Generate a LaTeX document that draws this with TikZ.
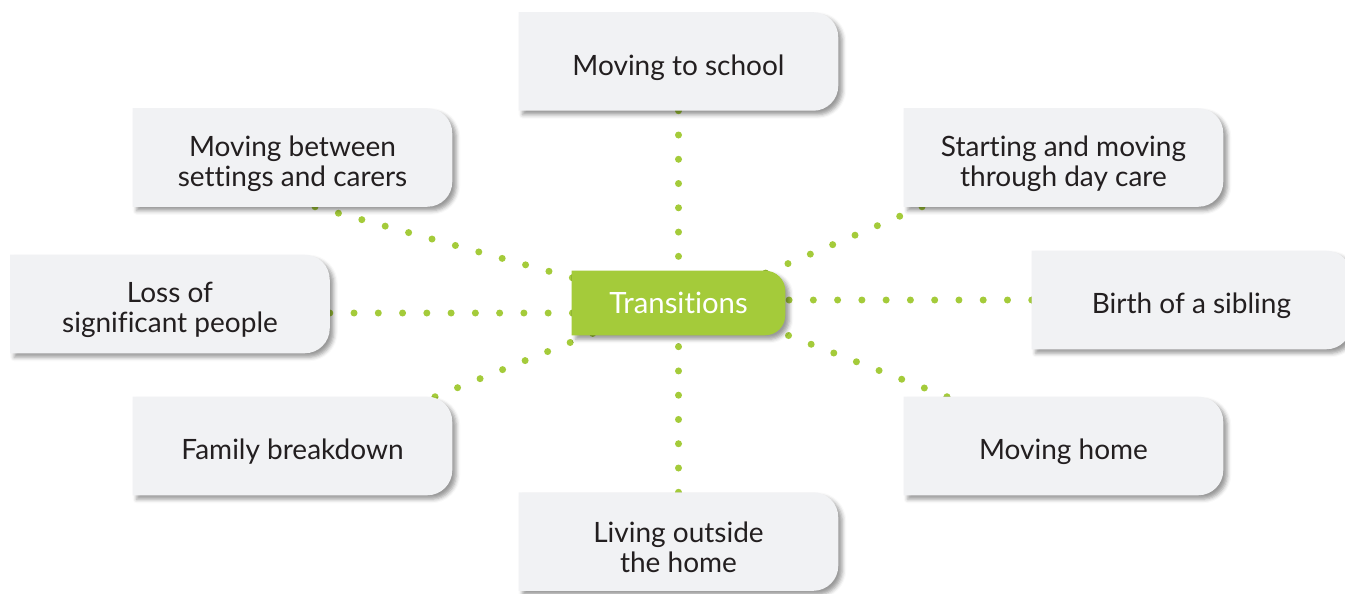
\documentclass[tikz,border=0pt]{standalone}
\usepackage{fontspec}
\setmainfont{Lato}[Ligatures={NoCommon}]
\usetikzlibrary{positioning}
\usetikzlibrary{backgrounds}
\usetikzlibrary{shadows.blur}
\definecolor{leaf}{HTML}{A4CB3A}
\definecolor{paper}{HTML}{F1F2F4}
\definecolor{ink}{HTML}{231F20}

\begin{document}
\begin{tikzpicture}[x=0.75pt,y=-0.75pt,
  box/.style={minimum width=239.25pt,minimum height=73.5pt,align=center,text=ink,font=\fontsize{21pt}{22.5pt}\selectfont},
  hub/.style={minimum width=159.75pt,minimum height=48pt,text=white,font=\fontsize{22pt}{26pt}\selectfont},
  link/.style={leaf,line width=5.25pt,line cap=round,dash pattern=on 0pt off 18.2pt},
  shade/.style={blur shadow={shadow xshift=3pt,shadow yshift=-3pt,shadow blur radius=3pt,shadow opacity=40}}]
  \useasboundingbox (0,0) rectangle (1345,593);
  \node[hub](trans) at (678.5,303) {Transitions};
  \node[box,above=115.5pt of trans](mts) {Moving to school};
  \node[box,below=122.25pt of trans](lio) {Living outside\\the home};
  \node[box](mbs) at (292.5,163.5) {Moving between\\settings and carers};
  \node[box](smd) at (1063.5,163.5) {Starting and moving\\through day care};
  \node[box](loss) at (170,310) {Loss of\\significant people};
  \node[box](birth) at (1191.5,306) {Birth of a sibling};
  \node[box](fam) at (292.5,452) {Family breakdown};
  \node[box](mh) at (1063.5,452) {Moving home};
  \begin{scope}[on background layer]
    % grey boxes sit a little above their text
    \begin{scope}[transform canvas={yshift=4.5pt}]
      % dotted spokes, from the outer box in
      \draw[link] (mts.south) -- (trans.center);
      \draw[link] (lio.north) -- (trans.center);
      \draw[link] ([xshift=16.9pt]mbs.south) -- ([yshift=-7.5pt]trans.center);
      \draw[link] ([xshift=-106.1pt]smd.south) -- ([yshift=-9.75pt]trans.center);
      \draw[link] ([yshift=-12pt]trans.center -| loss.east) -- ([yshift=-12pt]trans.center);
      \draw[link] ([yshift=-2.25pt]trans.center -| birth.west) -- ([yshift=-2.25pt]trans.center);
      \draw[link] ([xshift=106.9pt]fam.north) -- ([yshift=-1.5pt]trans.center);
      \draw[link] ([xshift=-87.4pt]mh.north) -- ([yshift=3pt]trans.center);
      % boxes, rounded on the right only
      \foreach \n in {mts,lio,mbs,smd,loss,birth,fam,mh}
        \fill[paper,shade] (\n.south west) -- (\n.north west) -- ([xshift=-18.75pt]\n.north east)
          arc[start angle=90,end angle=0,radius=18.75pt] -- ([yshift=18.75pt]\n.south east)
          arc[start angle=0,end angle=-90,radius=18.75pt] -- cycle;
    \end{scope}
    \fill[leaf,shade] (trans.south west) -- (trans.north west) -- ([xshift=-15pt]trans.north east)
      arc[start angle=90,end angle=0,radius=15pt] -- ([yshift=15pt]trans.south east)
      arc[start angle=0,end angle=-90,radius=15pt] -- cycle;
  \end{scope}
\end{tikzpicture}
\end{document}
